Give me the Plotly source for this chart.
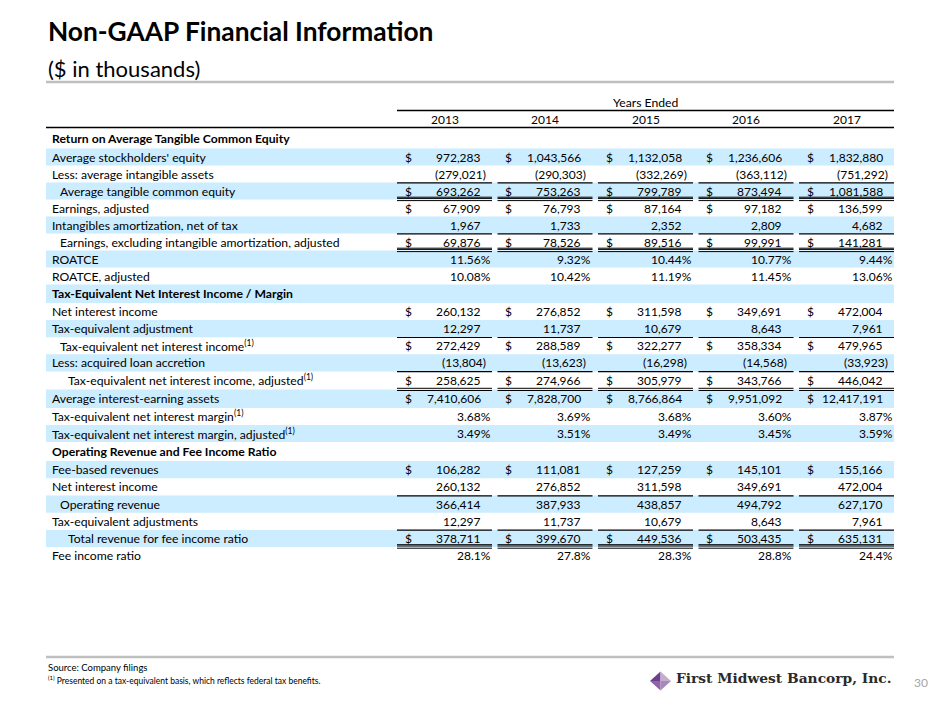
import plotly.graph_objects as go

# ---------------- data ----------------
years = ["2013", "2014", "2015", "2016", "2017"]

avg_equity = [972283, 1043566, 1132058, 1236606, 1832880]
avg_intangibles = [-279021, -290303, -332269, -363112, -751292]
avg_tangible_equity = [693262, 753263, 799789, 873494, 1081588]
earnings_adj = [67909, 76793, 87164, 97182, 136599]
intang_amort = [1967, 1733, 2352, 2809, 4682]
earnings_excl = [69876, 78526, 89516, 99991, 141281]
roatce = [11.56, 9.32, 10.44, 10.77, 9.44]
roatce_adj = [10.08, 10.42, 11.19, 11.45, 13.06]
nii = [260132, 276852, 311598, 349691, 472004]
te_adj = [12297, 11737, 10679, 8643, 7961]
te_nii = [272429, 288589, 322277, 358334, 479965]
loan_accretion = [-13804, -13623, -16298, -14568, -33923]
te_nii_adj = [258625, 274966, 305979, 343766, 446042]
avg_iea = [7410606, 7828700, 8766864, 9951092, 12417191]
te_nim = [3.68, 3.69, 3.68, 3.60, 3.87]
te_nim_adj = [3.49, 3.51, 3.49, 3.45, 3.59]
fee_rev = [106282, 111081, 127259, 145101, 155166]
op_rev = [366414, 387933, 438857, 494792, 627170]
te_adjs = [12297, 11737, 10679, 8643, 7961]
total_rev = [378711, 399670, 449536, 503435, 635131]
fee_ratio = [28.1, 27.8, 28.3, 28.8, 24.4]

title = "Non-GAAP Financial Information"
subtitle = "($ in thousands)"
col_group = "Years Ended"
source_note = "Source: Company filings"
footnote = "<sup>(1)</sup> Presented on a tax-equivalent basis, which reflects federal tax benefits."
company = "First Midwest Bancorp, Inc."
page_no = "30"

# label, values, format, indent level, dollar sign, border style
rows = [
    ("Return on Average Tangible Common Equity", None, "hdr", 0, False, None),
    ("Average stockholders' equity", avg_equity, "num", 0, True, None),
    ("Less: average intangible assets", avg_intangibles, "num", 0, False, "single"),
    ("Average tangible common equity", avg_tangible_equity, "num", 1, True, "ul_double"),
    ("Earnings, adjusted", earnings_adj, "num", 0, True, None),
    ("Intangibles amortization, net of tax", intang_amort, "num", 0, False, "single"),
    ("Earnings, excluding intangible amortization, adjusted", earnings_excl, "num", 1, True, "ul_double"),
    ("ROATCE", roatce, "pct2", 0, False, None),
    ("ROATCE, adjusted", roatce_adj, "pct2", 0, False, None),
    ("Tax-Equivalent Net Interest Income / Margin", None, "hdr", 0, False, None),
    ("Net interest income", nii, "num", 0, True, None),
    ("Tax-equivalent adjustment", te_adj, "num", 0, False, "single"),
    ("Tax-equivalent net interest income<sup>(1)</sup>", te_nii, "num", 1, True, None),
    ("Less: acquired loan accretion", loan_accretion, "num", 0, False, "single"),
    ("Tax-equivalent net interest income, adjusted<sup>(1)</sup>", te_nii_adj, "num", 2, True, "double"),
    ("Average interest-earning assets", avg_iea, "num", 0, True, None),
    ("Tax-equivalent net interest margin<sup>(1)</sup>", te_nim, "pct2", 0, False, None),
    ("Tax-equivalent net interest margin, adjusted<sup>(1)</sup>", te_nim_adj, "pct2", 0, False, None),
    ("Operating Revenue and Fee Income Ratio", None, "hdr", 0, False, None),
    ("Fee-based revenues", fee_rev, "num", 0, True, None),
    ("Net interest income", nii, "num", 0, False, "single"),
    ("Operating revenue", op_rev, "num", 1, False, None),
    ("Tax-equivalent adjustments", te_adjs, "num", 0, False, "single"),
    ("Total revenue for fee income ratio", total_rev, "num", 2, True, "ul_double"),
    ("Fee income ratio", fee_ratio, "pct1", 0, False, None),
]

# ---------------- layout parameters ----------------
FONT = "Lato"
TXT = "#000000"
BAND = "#CCECFF"
GRAY = "#BFBFBF"
row_heights = [21] + [17.0] * 8 + [18.5] + [17.1] * 4 + [18.0, 18.5] + [17.1] * 2 + [19.0] + [17.2] * 6
table_top = 127.5
left_x, right_x = 46, 894
col0_start, col_w, col_step = 397, 95, 100.5
indent_x = [50, 58, 66]
LBL_SIZE = 12.2
NUM_SIZE = 12.0
PAGE_OFFSET = 8  # default body margin of the html page


def fmt(v, kind):
    if kind == "num":
        s = f"{abs(v):,}"
        return f"({s})" if v < 0 else s
    if kind == "pct2":
        return f"{v:.2f}%"
    return f"{v:.1f}%"


fig = go.Figure()
fig.add_trace(go.Scatter(x=[PAGE_OFFSET, 940], y=[PAGE_OFFSET, 705], mode="markers",
                         marker=dict(opacity=0), hoverinfo="skip", showlegend=False))

shapes = []
ann = []


def line(x0, x1, y, color="#000000", w=1.0):
    shapes.append(dict(type="line", xref="x", yref="y", x0=x0, x1=x1, y0=y, y1=y,
                       line=dict(color=color, width=w), layer="above"))


def text(x, y, s, size=LBL_SIZE, anchor="left", bold=False, color=TXT, family=FONT, yanchor="middle"):
    ann.append(dict(x=x, y=y, xref="x", yref="y", text=f"<b>{s}</b>" if bold else s,
                    showarrow=False, xanchor=anchor, yanchor=yanchor,
                    font=dict(family=family, size=size, color=color)))


# title area
text(46, 31, title, size=26.3, bold=True)
text(46, 68, subtitle, size=22)
line(left_x, right_x, 82, GRAY, 2.5)

# column headers
col_starts = [col0_start + i * col_step for i in range(len(years))]
col_ends = [s + col_w for s in col_starts]
text((col_starts[0] + col_ends[-1]) / 2, 102, col_group, anchor="center")
line(col_starts[0], col_ends[-1], 110.5, "#000000", 1.4)
for i, yr in enumerate(years):
    text((col_starts[i] + col_ends[i]) / 2, 119.5, yr, size=NUM_SIZE, anchor="center")
line(left_x, right_x, 127.5, "#000000", 1.4)

# rows
top = table_top
for r, (label, vals, kind, ind, dollar, border) in enumerate(rows):
    h = row_heights[r]
    cy = top + h / 2
    bottom = top + h
    if r % 2 == 1:
        shapes.append(dict(type="rect", xref="x", yref="y", x0=left_x, x1=right_x,
                           y0=top, y1=bottom, fillcolor=BAND, line=dict(width=0), layer="below"))
    text(indent_x[ind], cy, label, bold=(kind == "hdr"))
    if vals is not None:
        for i, v in enumerate(vals):
            s = fmt(v, kind)
            if kind.startswith("pct"):
                xr = col_ends[i] + 0.5
            elif v < 0:
                xr = col_ends[i] - 4.5
            else:
                xr = col_ends[i] - 9.5
            text(xr, cy, s, size=NUM_SIZE, anchor="right")
            if dollar:
                text(col_starts[i] + 5.5, cy, "$", size=NUM_SIZE, anchor="left")
            if border == "single":
                line(col_starts[i], col_ends[i], bottom + 0.3, "#000000", 1.2)
            elif border in ("double", "ul_double"):
                line(col_starts[i], col_ends[i], bottom - 1.1, "#000000", 1.0)
                line(col_starts[i], col_ends[i], bottom + 1.1, "#000000", 1.0)
                if border == "ul_double":
                    line(col_starts[i], col_ends[i], cy + 6.2, "#000000", 1.0)
    top = bottom

# footer
line(left_x, right_x, 657, GRAY, 2.5)
text(46, 667.5, source_note, size=9.5)
text(46, 679.5, footnote, size=8.5)
# logo mark (diamond)
cx, cy0, dx, dy = 660.5, 681, 10.5, 9.5
facets = [
    (f"M {cx},{cy0-dy} L {cx-dx},{cy0} L {cx},{cy0} Z", "#6E3F8C"),
    (f"M {cx},{cy0-dy} L {cx+dx},{cy0} L {cx},{cy0} Z", "#C3AED0"),
    (f"M {cx-dx},{cy0} L {cx},{cy0+dy} L {cx},{cy0} Z", "#8E63A8"),
    (f"M {cx+dx},{cy0} L {cx},{cy0+dy} L {cx},{cy0} Z", "#A788BB"),
]
for p, c in facets:
    shapes.append(dict(type="path", xref="x", yref="y", path=p, fillcolor=c,
                       line=dict(width=0), layer="above"))
text(674, 678, company, size=13.8, family="DejaVu Serif", color="#2A2A2A", bold=True)
text(921, 682, page_no, size=12, anchor="center", color="#A6A6A6")

fig.update_layout(
    width=940, height=705, margin=dict(l=0, r=0, t=0, b=0),
    paper_bgcolor="white", plot_bgcolor="white", showlegend=False,
    xaxis=dict(range=[PAGE_OFFSET, 940 + PAGE_OFFSET], visible=False, fixedrange=True),
    yaxis=dict(range=[705 + PAGE_OFFSET, PAGE_OFFSET], visible=False, fixedrange=True),
    shapes=shapes, annotations=ann,
)
fig.write_html("out.html")
